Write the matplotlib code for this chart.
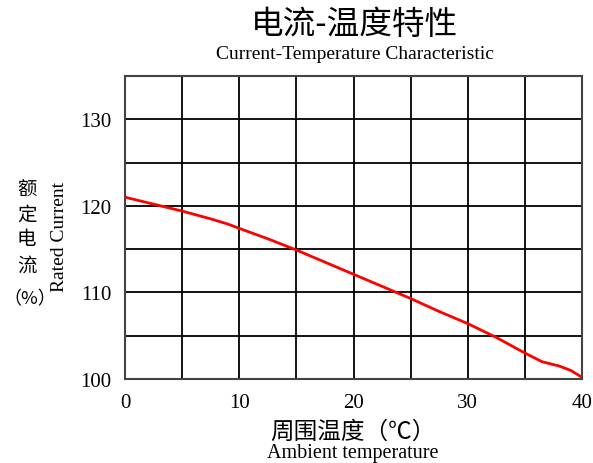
import matplotlib
matplotlib.use("Agg")
import matplotlib.pyplot as plt
import numpy as np

# values
temp = [0, 2.5, 5, 7.5, 9, 10, 12.5, 15, 17.5, 20, 22.5, 25, 27.5, 30, 32.5, 35, 36.5, 38, 39, 40]
current = [121.0, 120.2, 119.4, 118.5, 117.9, 117.4, 116.2, 114.9, 113.5, 112.1, 110.7, 109.3, 107.8, 106.4, 104.8, 103.0, 102.0, 101.5, 101.0, 100.2]
xticks = [0, 10, 20, 30, 40]
yticks = [100, 110, 120, 130]
ylabel_cn = ['额', '定', '电', '流', '（%）']

serif = ['Liberation Serif', 'Noto Sans CJK SC']
cjk = ['Noto Sans CJK SC', 'Liberation Serif']

fig = plt.figure(figsize=(5.93, 4.64), dpi=100)
ax = fig.add_axes([0.2108, 0.181, 0.7707, 0.653])

ax.plot(temp, current, color='red', lw=2)

ax.set_xlim(0, 40)
ax.set_ylim(100, 135)
ax.set_xticks(np.arange(0, 41, 5), minor=True)
ax.set_yticks(np.arange(100, 136, 5), minor=True)
ax.set_xticks(xticks)
ax.set_yticks(yticks)
ax.grid(True, which='both', color='black', lw=1.3)
ax.tick_params(which='both', length=0, labelsize=15)
ax.tick_params(axis='y', pad=10)
ax.tick_params(axis='x', pad=10)
for lab in ax.get_xticklabels() + ax.get_yticklabels():
    lab.set_family(serif)
for s in ax.spines.values():
    s.set_linewidth(1.5)
    s.set_color('#444444')

fig.text(0.598, 0.946, '电流-温度特性', family=cjk, fontsize=23.5, fontweight='light',
         ha='center', va='center')
fig.text(0.598, 0.882, 'Current-Temperature Characteristic', family=serif, fontsize=14,
         ha='center', va='center')

fig.text(0.595, 0.068, '周围温度（℃）', family=cjk, fontsize=17, fontweight='light',
         ha='center', va='center')
fig.text(0.595, 0.022, 'Ambient temperature', family=serif, fontsize=14.5,
         ha='center', va='center')

# stacked Chinese y label, one character per line
for ch, yy in zip(ylabel_cn[:4], [0.590, 0.537, 0.483, 0.427]):
    fig.text(0.045, yy, ch, family=cjk, fontsize=14, fontweight='light',
             ha='center', va='center')
fig.text(0.05, 0.355, ylabel_cn[4], family=cjk, fontsize=13, fontweight='light',
         ha='center', va='center')
fig.text(0.1, 0.49, 'Rated Current', family=serif, fontsize=14, rotation=90,
         ha='center', va='center')

fig.savefig('out.png', dpi=100)
